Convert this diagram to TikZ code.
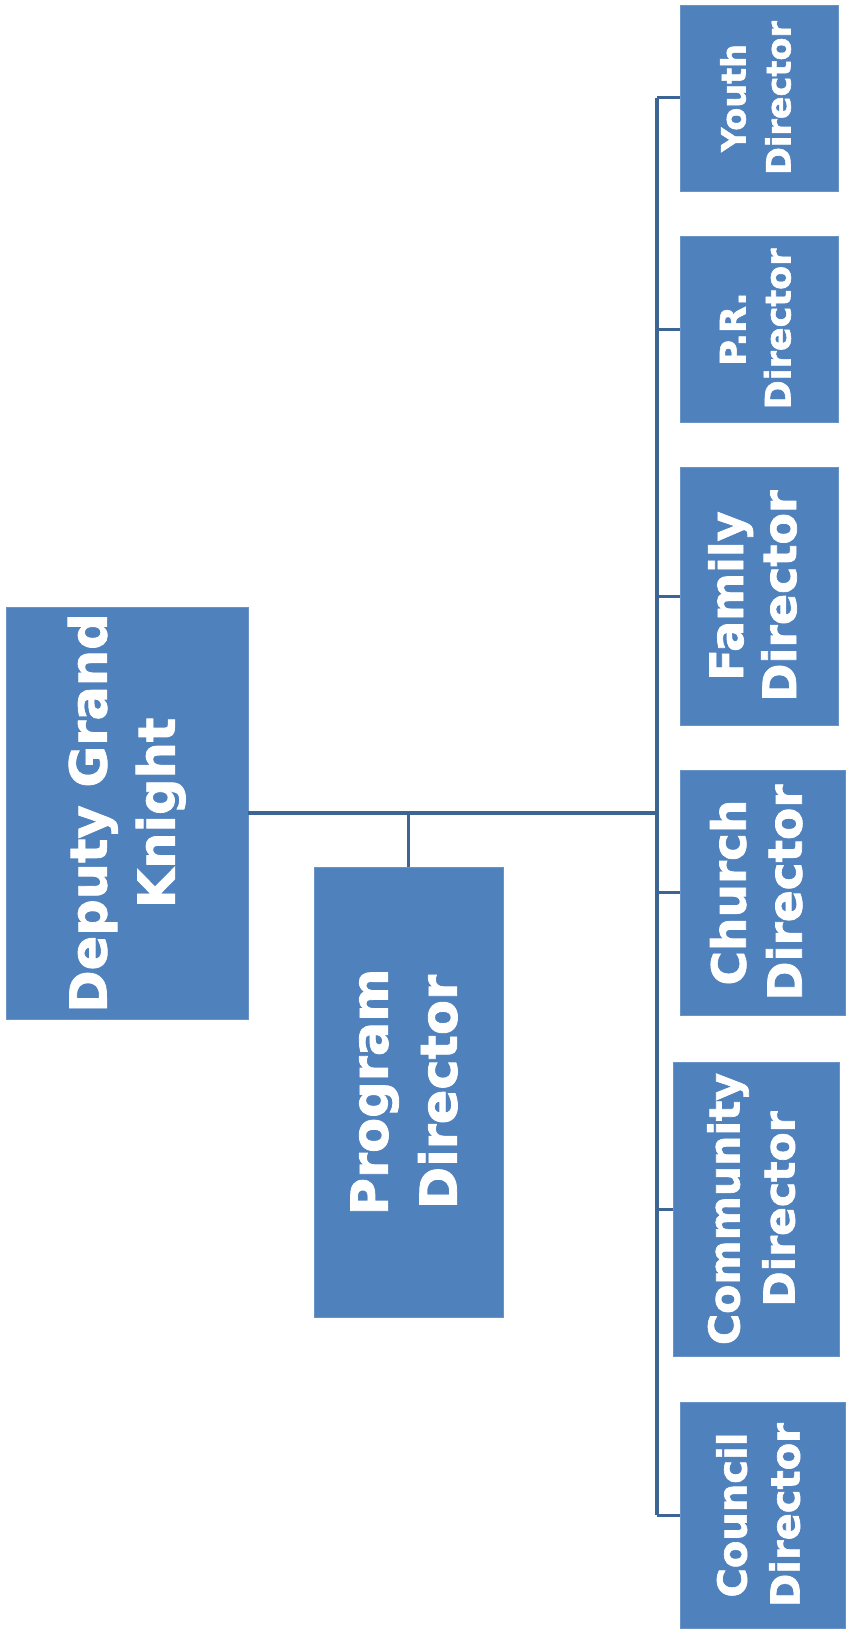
\documentclass[tikz,border=0pt]{standalone}
\usepackage{fontspec}
\setmainfont{DejaVu Sans}[BoldFont={DejaVu Sans Bold}, BoldFeatures={FakeBold=1.6}]
\usepackage{tikz}
\usetikzlibrary{positioning,calc}
\usepackage{xcolor}
\definecolor{kcblue}{RGB}{79,129,189}
\definecolor{kcline}{RGB}{60,101,150}
\tikzstyle{rolebox} = [rectangle, fill=kcblue, draw=kcblue!85!white, line width=0.8pt, inner sep=0pt, text=white, font=\bfseries]
\tikzstyle{link} = [line width=3.5pt, color=kcline]
\newcommand{\uptext}[3]{\rotatebox{90}{\fontsize{#1}{#2}\selectfont\begin{tabular}{@{}c@{}}#3\end{tabular}}}

\begin{document}
\begin{tikzpicture}[x=1pt,y=-1pt]
\useasboundingbox (0,0) rectangle (848,1640);
% head and program director
\node[rolebox, minimum width=242pt, minimum height=412pt] (dgk) at (127,813) {\uptext{51}{68}{Deputy Grand\\Knight}};
\node[rolebox, minimum width=189pt, minimum height=450pt] (pd) at (408.5,1092) {\uptext{51}{69}{Program\\Director}};
% directors
\node[rolebox, minimum width=158pt, minimum height=186pt] (youth) at (759,98) {\uptext{33.5}{45}{Youth\\Director}};
\node[rolebox, minimum width=158pt, minimum height=186pt] (pr) at (759,329) {\uptext{35}{45}{P.R.\\Director}};
\node[rolebox, minimum width=158pt, minimum height=258pt] (family) at (759,596) {\uptext{46}{53}{Family\\Director}};
\node[rolebox, minimum width=165pt, minimum height=245pt] (church) at (762.5,892.5) {\uptext{47}{56}{Church\\Director}};
\node[rolebox, minimum width=166pt, minimum height=294pt] (community) at (756,1209) {\uptext{42.5}{55}{Community\\Director}};
\node[rolebox, minimum width=165pt, minimum height=226pt] (council) at (762.5,1515) {\uptext{40}{53}{Council\\Director}};
\coordinate (busx) at (657,0);

\draw[link] (dgk.east) -- (dgk.east -| busx);
\draw[link, line width=3pt] (pd.north) -- (pd.north |- dgk.east);
\draw[link] (youth.west -| busx) -- (council.west -| busx);
\foreach \n in {youth,pr,family,church,community,council}
  \draw[link, line width=3pt] (\n.west -| busx) -- (\n.west);
\end{tikzpicture}
\end{document}
